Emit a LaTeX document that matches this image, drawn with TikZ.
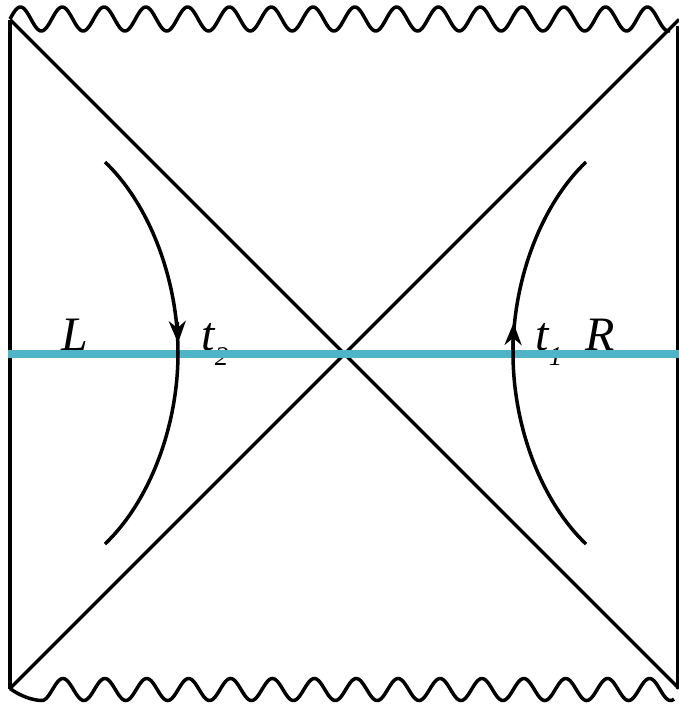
\documentclass[tikz,border=0pt]{standalone}
\usepackage{fontspec}
\setmainfont{Liberation Serif}
\usetikzlibrary{arrows.meta}
\definecolor{slicecyan}{RGB}{80,180,200}
\begin{document}
\begin{tikzpicture}[x=1pt,y=-1pt,
  bh/.style={line width=3.5pt, black},
  lbl/.style={font=\fontsize{48}{50}\selectfont\itshape, inner sep=0pt, anchor=base},
  headtip/.style={line width=3.5pt, black, -{Stealth[length=22pt,width=17pt,inset=7pt]}}
]
\useasboundingbox (0,0) rectangle (679,705);
% corners
\coordinate (TL) at (10,19.5);
\coordinate (BL) at (10,688.5);
\coordinate (TR) at (679,19.5);
\coordinate (BR) at (679,688.5);
\coordinate (RT) at (677.5,26);
\coordinate (RB) at (677.5,689);
\coordinate (CL) at (8,354);
\coordinate (CR) at (679,354);
% trajectory ends and vertices
\coordinate (LTop) at (105,162);
\coordinate (LMid) at (178,353);
\coordinate (LBot) at (105,544);
\coordinate (RTop) at (586,162);
\coordinate (RMid) at (513,353);
\coordinate (RBot) at (586,544);
% arrow points on the trajectories
\coordinate (LA1) at (177.3,322);
\coordinate (LA2) at (178,343);
\coordinate (RA1) at (513,350);
\coordinate (RA2) at (513.5,323);
% labels (under the cyan slice)
\node[lbl] (L) at (75,350) {L};
\node[lbl] (R) at (600,350) {R};
\node[lbl] (t2) at (215,350) {t\raisebox{-15pt}{\fontsize{27}{28}\selectfont 2}};
\node[lbl] (t1) at (549,350) {t\raisebox{-15pt}{\fontsize{27}{28}\selectfont 1}};
% boundaries
\draw[bh] (TL) -- (BL);
\draw[bh] (RT) -- (RB);
\draw[bh] (TL) -- (BR);
\draw[bh] (BL) -- (TR);
% singularities
\draw[bh, line join=round] plot[domain=10:670, samples=500, smooth] (\x, {19 - 12*sin((\x-10)*8.6124)});
\draw[bh] (BL) .. controls (20,696) and (33,700.5) .. (42,700.5);
\draw[bh] plot[domain=42:674, samples=500, smooth] (\x, {689.5 + 11*sin((\x-42)*8.5919 + 90)});
% slice
\draw[slicecyan, line width=7.5pt] (CL) -- (CR);
% trajectories
\draw[bh] (LTop) .. controls (150,205) and (178,280) .. (LMid)
               .. controls (178,426) and (150,501) .. (LBot);
\draw[bh] (RTop) .. controls (541,205) and (513,280) .. (RMid)
               .. controls (513,426) and (541,501) .. (RBot);
\draw[headtip] (LA1) -- (LA2);
\draw[headtip] (RA1) -- (RA2);
\end{tikzpicture}
\end{document}
